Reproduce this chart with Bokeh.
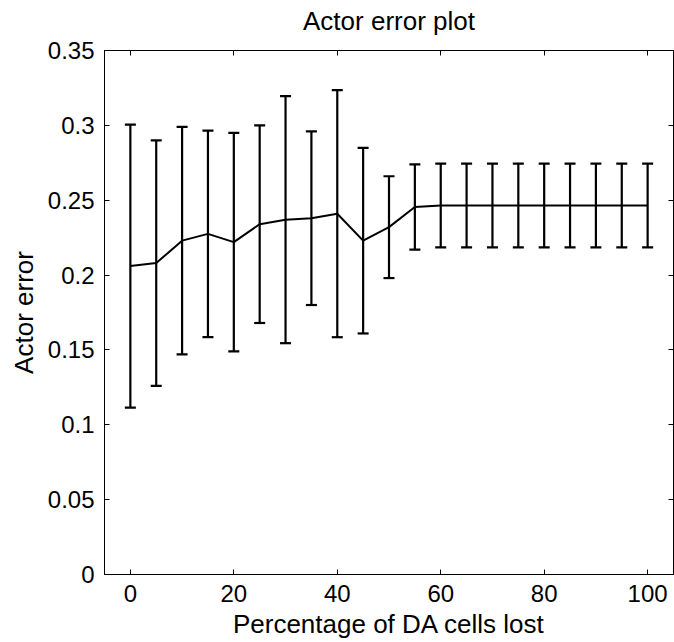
from bokeh.plotting import figure
from bokeh.models import (ColumnDataSource, Whisker, TeeHead, Range1d,
                          FixedTicker, LinearAxis)
from bokeh.embed import file_html
from bokeh.resources import INLINE

# ---- data ----
pct_lost = [0, 5, 10, 15, 20, 25, 30, 35, 40, 45, 50,
            55, 60, 65, 70, 75, 80, 85, 90, 95, 100]
actor_error = [0.206, 0.208, 0.223, 0.2275, 0.222, 0.234, 0.237, 0.238,
               0.241, 0.223, 0.232, 0.2455, 0.2465, 0.2465, 0.2465, 0.2465,
               0.2465, 0.2465, 0.2465, 0.2465, 0.2465]
error_sd = [0.0945, 0.082, 0.076, 0.069, 0.073, 0.066, 0.0825, 0.058,
            0.0825, 0.062, 0.034, 0.0285, 0.028, 0.028, 0.028, 0.028,
            0.028, 0.028, 0.028, 0.028, 0.028]
x_ticks = [0, 20, 40, 60, 80, 100]
y_ticks = [0, 0.05, 0.1, 0.15, 0.2, 0.25, 0.3, 0.35]
y_tick_labels = ["0", "0.05", "0.1", "0.15", "0.2", "0.25", "0.3", "0.35"]

title_text = "Actor error plot"
x_label = "Percentage of DA cells lost"
y_label = "Actor error"

FONT = "Liberation Sans"

upper = [m + e for m, e in zip(actor_error, error_sd)]
lower = [m - e for m, e in zip(actor_error, error_sd)]
src = ColumnDataSource(dict(x=pct_lost, y=actor_error, upper=upper, lower=lower))

p = figure(width=674, height=642,
           x_range=Range1d(-5, 105), y_range=Range1d(0, 0.35),
           output_backend="svg", toolbar_location=None,
           min_border_left=104, min_border_right=1,
           min_border_top=50, min_border_bottom=68,
           background_fill_color="white", border_fill_color="white")

p.xgrid.visible = False
p.ygrid.visible = False
p.outline_line_color = "black"
p.outline_line_width = 1

# error bars
w = Whisker(source=src, base="x", upper="upper", lower="lower",
            line_color="black", line_width=2.2,
            upper_head=TeeHead(size=11, line_width=2.2, line_color="black"),
            lower_head=TeeHead(size=11, line_width=2.2, line_color="black"))
p.add_layout(w)

# mean line
p.line("x", "y", source=src, line_color="black", line_width=2)

y_over = {t: l for t, l in zip(y_ticks, y_tick_labels)}


def style_axis(ax, ticks, show_labels=True):
    ax.ticker = FixedTicker(ticks=ticks)
    ax.major_tick_in = 5
    ax.major_tick_out = 0
    ax.minor_tick_line_color = None
    ax.axis_line_color = "black"
    ax.major_tick_line_color = "black"
    ax.major_label_text_font = FONT
    ax.major_label_text_color = "black"
    ax.axis_label_text_font = FONT
    ax.axis_label_text_font_style = "normal"
    ax.axis_label_text_color = "black"
    ax.axis_label_text_font_size = "26px"
    if show_labels:
        ax.major_label_text_font_size = "24px"
    else:
        ax.major_label_overrides = {t: "" for t in ticks}
        ax.major_label_text_font_size = "0px"
        ax.major_label_standoff = 0


xa = p.xaxis[0]
style_axis(xa, x_ticks)
xa.axis_label = x_label
xa.major_label_standoff = 10
xa.axis_label_standoff = 4

ya = p.yaxis[0]
style_axis(ya, y_ticks)
ya.axis_label = y_label
ya.major_label_overrides = y_over
ya.major_label_standoff = 10
ya.axis_label_standoff = 6

# top axis: inward ticks, carries the chart title as its label
top = LinearAxis()
style_axis(top, x_ticks, show_labels=False)
top.axis_label = title_text
top.axis_label_standoff = 15
p.add_layout(top, "above")

right = LinearAxis()
style_axis(right, y_ticks, show_labels=False)
p.add_layout(right, "right")

open("out.html", "w").write(file_html(p, INLINE))
